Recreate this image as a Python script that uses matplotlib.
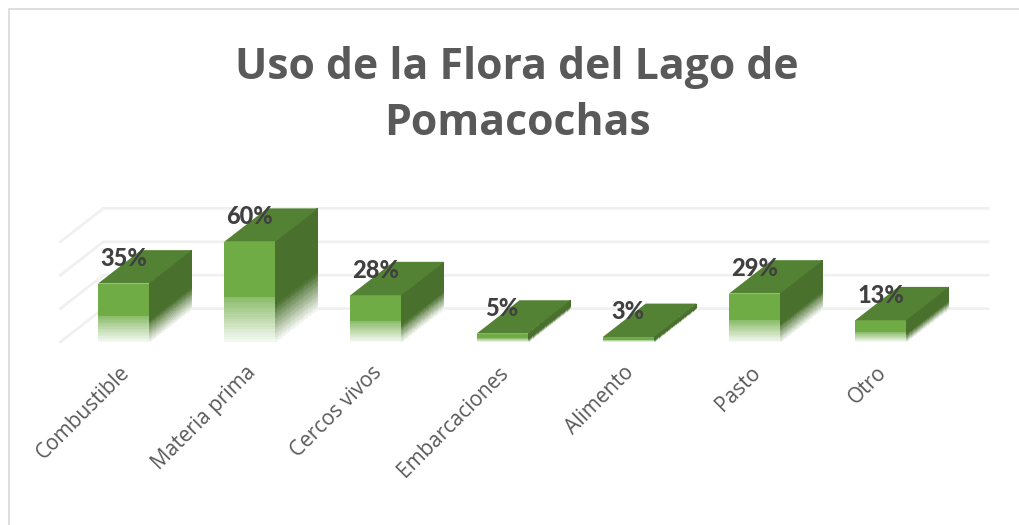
import numpy as np
import matplotlib
matplotlib.use('Agg')
import matplotlib.pyplot as plt
from matplotlib.patches import Polygon
from matplotlib.lines import Line2D

categories = ['Combustible', 'Materia prima', 'Cercos vivos', 'Embarcaciones',
              'Alimento', 'Pasto', 'Otro']
values = [35, 60, 28, 5, 3, 29, 13]
grid_values = [0, 20, 40, 60]
title = 'Uso de la Flora del Lago de\nPomacochas'

# pixel layout of the fake 3d box
W, H = 1020, 525
x0_px, x_step_px = 123.5, 126.2
y0_px, y_step_px = 342, 1.67
bar_w = 0.404
depth_x = 0.34
depth_y = 20
grid_right = 6.85

FRONT = np.array([0x6f, 0xac, 0x46]) / 255
TOP = '#548235'
SIDE = np.array([0x4a, 0x70, 0x2e]) / 255
WHITE = np.ones(3)


def fade_colors(base, n, fade_top, step):
    # fades to white at the base of the face
    t = np.linspace(0, 1, n)
    c = np.zeros((n, 1, 3))
    for i, ti in enumerate(t):
        if ti >= fade_top:
            c[i, 0] = base
        else:
            mix = step + (0.92 - step) * (fade_top - ti) / fade_top
            c[i, 0] = base * (1 - mix) + WHITE * mix
    return c


fig = plt.figure(figsize=(W / 100, H / 100), dpi=100)
ax = fig.add_axes([0, 0, 1, 1])
ax.set_xlim(-x0_px / x_step_px, (W - x0_px) / x_step_px)
ax.set_ylim((y0_px - H) / y_step_px, y0_px / y_step_px)
ax.axis('off')

# chart frame, no right or bottom side in the crop
fig.add_artist(Line2D([9 / W, 9 / W, 1],
                      [0, 1 - 9 / H, 1 - 9 / H], color='#d9d9d9', lw=1.2))

# walls
left_edge = -0.5
for g in grid_values:
    ax.plot([left_edge, left_edge + depth_x, grid_right],
            [g, g + depth_y, g + depth_y], color='#f0f0f0', lw=2, zorder=1,
            solid_joinstyle='round')

n = 40
for i, v in enumerate(values):
    xl = i - bar_w / 2
    xr = i + bar_w / 2
    t = np.linspace(0, 1, n + 1)
    # side face, skewed
    sx = np.array([[xr, xr + depth_x]] * (n + 1))
    sy = np.column_stack([t * v, t * v + depth_y])
    ax.pcolormesh(sx, sy, fade_colors(SIDE, n, 0.38, 0.0), shading='flat',
                  zorder=3 + i, antialiased=False)
    # front face
    fx = np.array([[xl, xr]] * (n + 1))
    fy = np.column_stack([t * v, t * v])
    ax.pcolormesh(fx, fy, fade_colors(FRONT, n, 0.45, 0.18), shading='flat',
                  zorder=3 + i, antialiased=False)
    # top face
    ax.add_patch(Polygon([[xl, v], [xr, v], [xr + depth_x, v + depth_y],
                          [xl + depth_x, v + depth_y]], facecolor=TOP,
                         edgecolor='none', zorder=3 + i))

for i, v in enumerate(values):
    ax.text(i, v + 15, f'{v}%', ha='center', va='center', family='Lato',
            weight=900, fontsize=17, color='#404040', zorder=20)
    ax.annotate(categories[i], (i, 0), xytext=(2, -20), textcoords='offset points',
                rotation=45, rotation_mode='anchor', ha='right', va='center',
                family='Open Sans', fontsize=15, color='#595959')

fig.text(517 / W, 1 - 95.5 / H, title, ha='center', va='center', family='Open Sans',
         weight='bold', fontsize=30.8, color='#595959', linespacing=1.4)

fig.savefig('out.png', dpi=100)
